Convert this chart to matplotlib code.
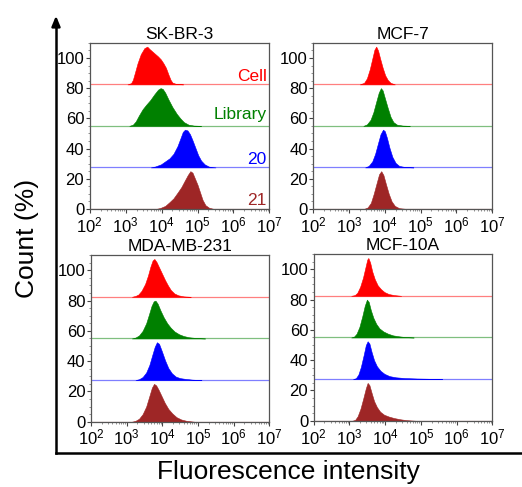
import matplotlib
matplotlib.use("Agg")
import matplotlib.pyplot as plt
import numpy as np
from matplotlib.lines import Line2D
from matplotlib.ticker import MultipleLocator, LogLocator

plt.rcParams["font.family"] = ["Liberation Sans", "DejaVu Sans"]
plt.rcParams["mathtext.fontset"] = "custom"
plt.rcParams["mathtext.rm"] = "Liberation Sans"
plt.rcParams["mathtext.it"] = "Liberation Sans:italic"
plt.rcParams["mathtext.bf"] = "Liberation Sans:bold"

# ====== Data ======
# cell lines (panel titles) and samples (stack order, top to bottom)
cell_lines = ["SK-BR-3", "MCF-7", "MDA-MB-231", "MCF-10A"]
samples = ["Cell", "Library", "20", "21"]
offsets = [82.5, 55, 27.5, 0]
colors = ["#ff0000", "#008000", "#0000ff", "#9e2626"]

# histogram outlines: (log10 intensity, count above baseline)
skbr3_cell = [(3.05, 0), (3.15, 0.8), (3.20, 3), (3.26, 8), (3.33, 14), (3.42, 20), (3.52, 24), (3.60, 25),
              (3.66, 23.5), (3.78, 21), (3.90, 18.5), (3.98, 16.5), (4.05, 14), (4.12, 11), (4.19, 6.5),
              (4.25, 3), (4.30, 1.2), (4.40, 0.3), (4.60, 0)]
skbr3_library = [(3.10, 0), (3.20, 0.8), (3.28, 3), (3.37, 7), (3.47, 11), (3.57, 14), (3.68, 17), (3.80, 21),
                 (3.90, 24), (3.97, 25), (4.03, 24.5), (4.10, 22), (4.19, 17.5), (4.30, 12.5), (4.42, 8),
                 (4.52, 5), (4.62, 2.5), (4.75, 0.8), (4.90, 0.2), (5.10, 0)]
skbr3_20 = [(3.70, 0), (3.82, 0.6), (3.98, 2), (4.10, 4), (4.22, 6), (4.33, 9), (4.44, 14), (4.52, 19),
            (4.59, 23.5), (4.65, 25), (4.72, 24.5), (4.79, 22), (4.86, 18), (4.94, 13), (5.02, 8),
            (5.10, 4.5), (5.20, 2), (5.32, 0.5), (5.50, 0)]
skbr3_21 = [(3.85, 0), (3.96, 0.6), (4.10, 2), (4.22, 4.5), (4.33, 7), (4.45, 11), (4.55, 14.5), (4.65, 19),
            (4.73, 22.5), (4.80, 25), (4.86, 24), (4.93, 20), (5.00, 16), (5.07, 11), (5.14, 6),
            (5.22, 2.5), (5.32, 0.8), (5.45, 0)]

mcf7_cell = [(3.30, 0), (3.42, 1), (3.50, 4), (3.58, 10), (3.65, 17), (3.71, 23), (3.76, 25), (3.81, 22.5),
             (3.87, 17), (3.94, 11), (4.01, 6), (4.08, 3), (4.16, 1), (4.28, 0)]
mcf7_library = [(3.40, 0), (3.50, 1), (3.60, 4), (3.68, 9), (3.76, 16), (3.83, 22), (3.89, 25), (3.94, 23.5),
                (4.00, 18.5), (4.08, 12), (4.16, 6), (4.24, 2.5), (4.34, 0.8), (4.50, 0.2), (4.70, 0)]
mcf7_20 = [(3.45, 0), (3.55, 1), (3.65, 4), (3.73, 9), (3.81, 16), (3.88, 22), (3.95, 25), (4.00, 24),
           (4.06, 19.5), (4.13, 13), (4.21, 7), (4.30, 3), (4.40, 1), (4.55, 0.3), (4.80, 0)]
mcf7_21 = [(3.42, 0), (3.52, 1), (3.61, 4), (3.69, 10), (3.77, 17), (3.84, 23), (3.90, 25), (3.96, 22.5),
           (4.03, 16.5), (4.11, 10), (4.19, 5), (4.28, 2), (4.40, 0.5), (4.60, 0)]

mda_cell = [(3.15, 0), (3.25, 0.6), (3.33, 1.5), (3.42, 4), (3.52, 8.5), (3.60, 14), (3.67, 20), (3.73, 24),
            (3.78, 25), (3.84, 23), (3.92, 19), (4.00, 15), (4.08, 11), (4.16, 7.5), (4.24, 4.5),
            (4.34, 2.2), (4.45, 1), (4.60, 0.3), (4.80, 0)]
mda_library = [(3.15, 0), (3.25, 0.6), (3.35, 2), (3.45, 5), (3.55, 10), (3.63, 16), (3.70, 21.5), (3.76, 24.5),
               (3.81, 25), (3.87, 23), (3.95, 18.5), (4.04, 14), (4.14, 10), (4.24, 7), (4.35, 4.5),
               (4.47, 2.8), (4.60, 1.6), (4.75, 0.8), (4.95, 0.3), (5.20, 0)]
mda_20 = [(3.25, 0), (3.35, 0.6), (3.45, 2), (3.55, 5), (3.64, 10), (3.72, 16.5), (3.79, 22), (3.85, 25),
          (3.91, 24), (3.99, 19), (4.08, 13), (4.17, 8), (4.27, 4.5), (4.38, 2.3), (4.50, 1.3),
          (4.65, 0.8), (4.85, 0.3), (5.10, 0)]
mda_21 = [(3.15, 0), (3.25, 0.6), (3.35, 2), (3.45, 5), (3.55, 10), (3.64, 17), (3.71, 22.5), (3.77, 25),
          (3.83, 24), (3.90, 21), (3.98, 17), (4.07, 12.5), (4.17, 8.5), (4.28, 5.5), (4.40, 3),
          (4.53, 1.5), (4.68, 0.6), (4.90, 0)]

mcf10a_cell = [(3.05, 0), (3.15, 0.5), (3.22, 2), (3.30, 6), (3.38, 12), (3.45, 19), (3.50, 24), (3.53, 25),
               (3.58, 22), (3.64, 16), (3.71, 11), (3.79, 7), (3.88, 4.5), (3.98, 2.5), (4.10, 1.2),
               (4.25, 0.5), (4.45, 0)]
mcf10a_library = [(3.05, 0), (3.13, 0.6), (3.20, 2.5), (3.28, 7), (3.36, 14), (3.43, 21), (3.49, 25),
                  (3.54, 23.5), (3.60, 18), (3.67, 13), (3.75, 9), (3.84, 6), (3.95, 4), (4.08, 2.5),
                  (4.22, 1.4), (4.38, 0.8), (4.55, 0.3), (4.80, 0)]
mcf10a_20 = [(3.10, 0), (3.18, 0.6), (3.25, 3), (3.32, 8), (3.40, 16), (3.46, 22.5), (3.51, 25), (3.56, 23.5),
             (3.62, 18), (3.69, 12.5), (3.77, 8.5), (3.87, 5.5), (3.98, 3.5), (4.12, 2), (4.30, 1.2),
             (4.55, 0.7), (4.90, 0.4), (5.30, 0.2), (5.60, 0)]
mcf10a_21 = [(3.08, 0), (3.16, 0.6), (3.23, 3), (3.31, 8), (3.39, 15), (3.46, 21.5), (3.51, 25), (3.56, 23.5),
             (3.62, 18.5), (3.69, 13), (3.77, 9), (3.86, 6), (3.97, 4), (4.10, 2.8), (4.25, 1.8),
             (4.42, 1), (4.60, 0.4), (4.85, 0)]

histograms = [
    [skbr3_cell, skbr3_library, skbr3_20, skbr3_21],
    [mcf7_cell, mcf7_library, mcf7_20, mcf7_21],
    [mda_cell, mda_library, mda_20, mda_21],
    [mcf10a_cell, mcf10a_library, mcf10a_20, mcf10a_21],
]

# label y positions for the sample names (first panel only)
label_y = [88.0, 62.5, 33.0, 5.5]

# ====== Figure ======
fig = plt.figure(figsize=(5.22, 4.87), dpi=100)

panel_rects = [
    (0.172, 0.571, 0.344, 0.341),
    (0.600, 0.571, 0.343, 0.341),
    (0.174, 0.134, 0.342, 0.342),
    (0.601, 0.136, 0.342, 0.342),
]

for p, (name, rect) in enumerate(zip(cell_lines, panel_rects)):
    ax = fig.add_axes(rect)
    for s, (curve, base, col) in enumerate(zip(histograms[p], offsets, colors)):
        lx = np.array([c[0] for c in curve])
        h = np.array([c[1] for c in curve])
        x = 10 ** lx
        # faint full-width baseline
        ax.axhline(base, color=col, lw=0.9, alpha=0.5, zorder=1)
        ax.fill_between(x, base, base + h, color=col, lw=0.4, zorder=2)
        if p == 0:
            ax.text(10 ** 6.93, label_y[s], samples[s], color=col, ha="right", va="center",
                    fontsize=12.5)

    ax.set_xscale("log")
    ax.set_xlim(1e2, 1e7)
    ax.set_ylim(0, 110)
    ax.set_yticks([0, 20, 40, 60, 80, 100])
    ax.yaxis.set_minor_locator(MultipleLocator(5))
    ax.xaxis.set_major_locator(LogLocator(base=10, numticks=10))
    ax.xaxis.set_minor_locator(LogLocator(base=10, subs=np.arange(2, 10), numticks=20))
    ax.tick_params(axis="both", which="major", direction="out", length=3, width=0.8,
                   labelsize=12, pad=1, color="#444444")
    ax.tick_params(axis="x", which="major", pad=1.5)
    ax.tick_params(axis="both", which="minor", direction="out", length=1.5, width=0.5,
                   color="#666666")
    for sp in ax.spines.values():
        sp.set_color("#555555")
        sp.set_linewidth(0.9)
    ax.set_title(name, fontsize=12.5, pad=3)

# outer axis with arrow
fig.add_artist(Line2D([56 / 522, 1.0], [1 - 453 / 487, 1 - 453 / 487], color="black", lw=1.8))
fig.add_artist(Line2D([56 / 522, 56 / 522], [1 - 453 / 487, 1 - 25 / 487], color="black", lw=1.8))
plt.annotate("", xy=(56 / 522, 1 - 13 / 487), xycoords="figure fraction",
             xytext=(56 / 522, 1 - 30 / 487), textcoords="figure fraction",
             arrowprops=dict(arrowstyle="-|>,head_length=0.6,head_width=0.25", color="black", lw=1.8))

fig.text(288 / 522, 1 - 472 / 487, "Fluorescence intensity", ha="center", va="center", fontsize=19)
fig.text(27 / 522, 1 - 238 / 487, "Count (%)", ha="center", va="center", rotation=90, fontsize=19)

fig.savefig("out.png", dpi=100)
